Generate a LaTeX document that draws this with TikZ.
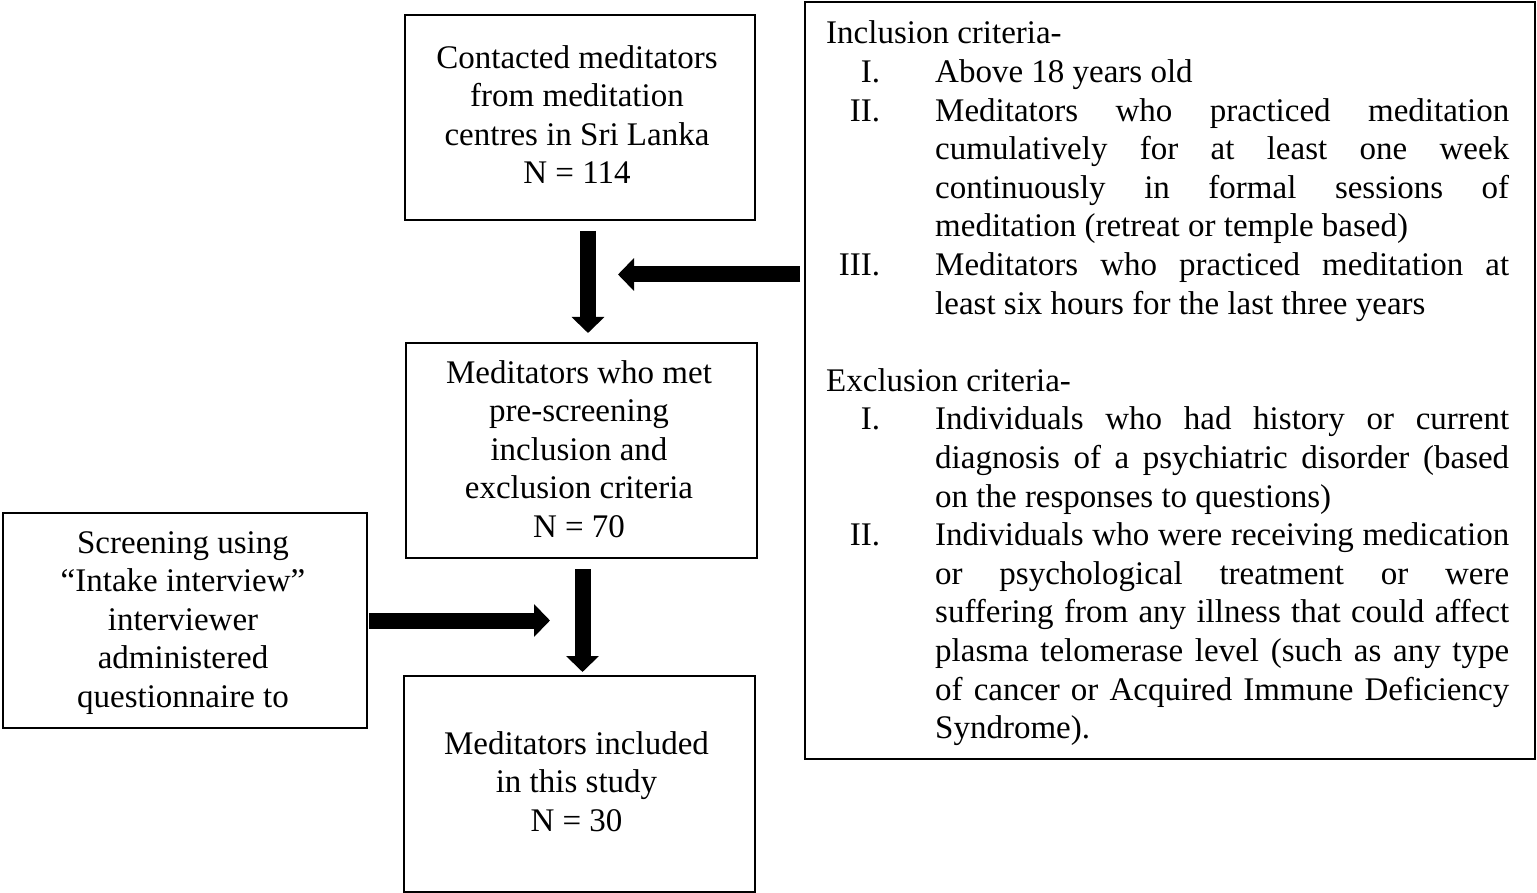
\documentclass[tikz,border=0pt]{standalone}
\usepackage{fontspec}
\setmainfont{Liberation Serif}
\usetikzlibrary{arrows.meta}
\tikzset{
  box/.style={draw=black, line width=2pt, inner sep=0pt, anchor=north west},
  txt/.style={inner sep=0pt, anchor=base, font=\fontsize{33}{38.5}\selectfont},
  crit/.style={inner sep=0pt, anchor=base west, font=\fontsize{33}{38.6}\selectfont},
  bigarrow/.style={line width=16pt, -{Triangle[length=16pt,width=32pt]}},
}
\newcommand{\jl}[1]{\makebox[574pt][s]{#1}}
\newcommand{\num}[1]{\makebox[54pt][r]{#1}\hspace{55pt}}
\newcommand{\ind}{\hspace*{109pt}}
\begin{document}
\begin{tikzpicture}[x=1pt,y=-1pt]
\useasboundingbox (0,0) rectangle (1537,893);
% boxes
\node[box, minimum width=350pt, minimum height=205pt] (a) at (404,14) {};
\node[box, minimum width=351pt, minimum height=215pt] (b) at (405,342) {};
\node[box, minimum width=351pt, minimum height=216pt] (c) at (403,675) {};
\node[box, minimum width=364pt, minimum height=215pt] (l) at (2,512) {};
\node[box, minimum width=730pt, minimum height=757pt] (r) at (804,1) {};
% box texts
\node[txt] (at) at (577,68.5) {\parbox[t]{340pt}{\centering Contacted meditators\\from meditation\\centres in Sri Lanka\\N = 114}};
\node[txt] (bt) at (579,383.5) {\parbox[t]{340pt}{\centering Meditators who met\\pre-screening\\inclusion and\\exclusion criteria\\N = 70}};
\node[txt] (ct) at (576.5,754) {\parbox[t]{340pt}{\centering Meditators included\\in this study\\N = 30}};
\node[txt] (lt) at (183,553) {\parbox[t]{350pt}{\centering Screening using\\``Intake interview''\\interviewer\\administered\\questionnaire to}};
% criteria text
\node[crit] (rt) at (826,44) {\parbox[t]{710pt}{%
Inclusion criteria-\\
\num{I.}Above 18 years old\\
\num{II.}\jl{Meditators who practiced meditation}\\
\ind\jl{cumulatively for at least one week}\\
\ind\jl{continuously in formal sessions of}\\
\ind meditation (retreat or temple based)\\
\num{III.}\jl{Meditators who practiced meditation at}\\
\ind least six hours for the last three years\\
\mbox{}\\
Exclusion criteria-\\
\num{I.}\jl{Individuals who had history or current}\\
\ind\jl{diagnosis of a psychiatric disorder (based}\\
\ind on the responses to questions)\\
\num{II.}\jl{Individuals who were receiving medication}\\
\ind\jl{or psychological treatment or were}\\
\ind\jl{suffering from any illness that could affect}\\
\ind\jl{plasma telomerase level (such as any type}\\
\ind\jl{of cancer or Acquired Immune Deficiency}\\
\ind Syndrome).}};
% free arrow ends
\coordinate (tip1) at (618,274.5);
\coordinate (tip2) at (550,620);
% arrows
\draw[bigarrow] ([xshift=8pt,yshift=-10pt]a.south) -- ([xshift=6.5pt,yshift=9pt]b.north);
\draw[bigarrow] ([xshift=1pt,yshift=-10pt]b.south) -- ([xshift=3pt,yshift=3pt]c.north);
\draw[bigarrow] ([xshift=-4pt]r.west |- tip1) -- (tip1);
\draw[bigarrow] ([xshift=1pt]l.east) -- (tip2 |- l.east);
\end{tikzpicture}
\end{document}
